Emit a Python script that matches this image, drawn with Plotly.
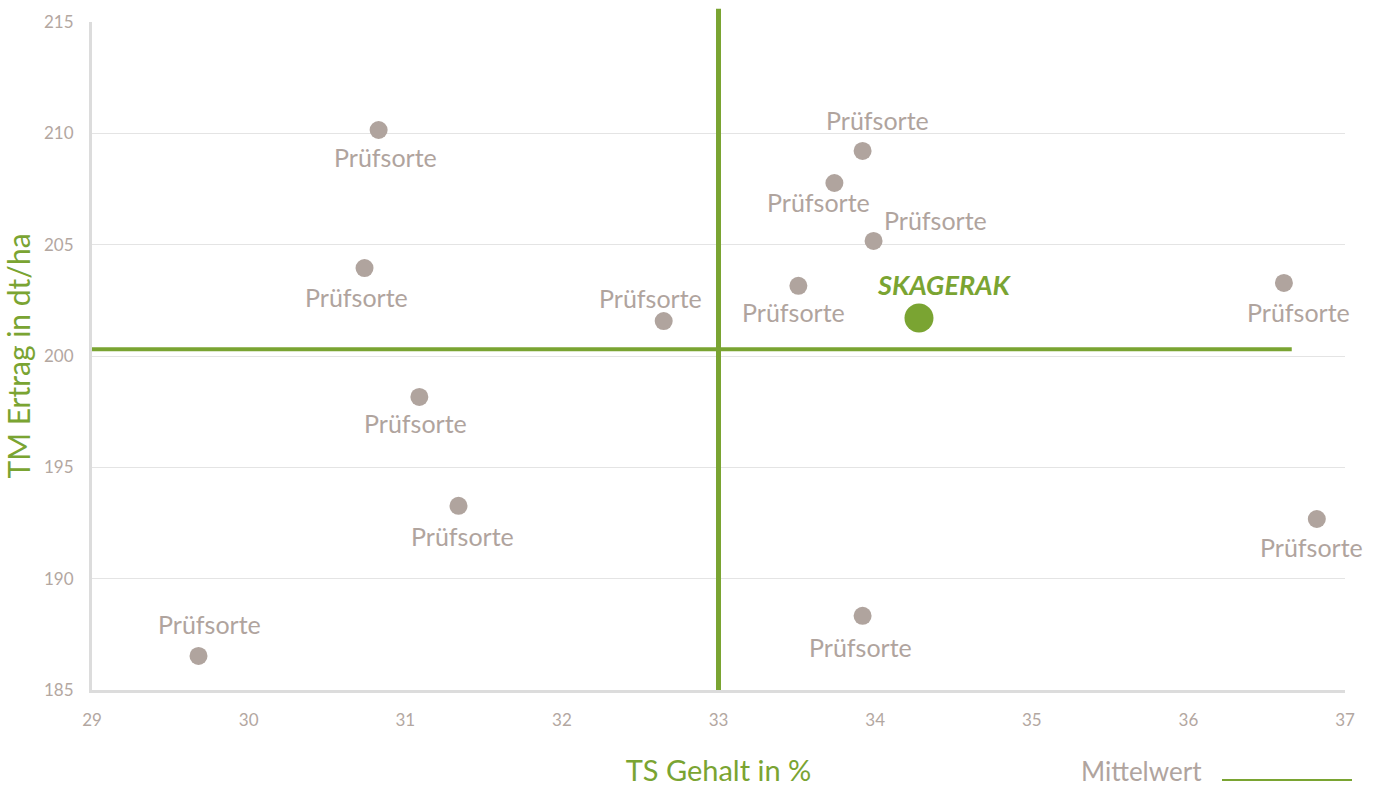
import plotly.graph_objects as go

# ---- data ----
sorten_x = [30.83, 30.74, 31.09, 31.34, 29.68, 32.65, 33.51, 33.92, 33.74, 33.99, 33.92, 36.61, 36.82]
sorten_y = [210.15, 203.95, 198.16, 193.27, 186.53, 201.57, 203.15, 209.21, 207.77, 205.17, 188.33, 203.28, 192.68]
sorten_label = ["Prüfsorte"] * 13
skagerak_x = [34.28]
skagerak_y = [201.71]
skagerak_label = ["Skagerak"]
mean_x = 33.0
mean_y = 200.3
x_ticks = [29, 30, 31, 32, 33, 34, 35, 36, 37]
y_ticks = [185, 190, 195, 200, 205, 210, 215]

# label offsets (pixels) - styling only
label_dx = [7, -8, -4, 4, 11, -13, -5, 15, -16, 62, -2, 15, -5]
label_dy = [-27, -29, -26, -30, 32, 23, -26, 31, -19, 21, -31, -29, -28]

GREEN = "#7aa432"
GREYPT = "#b0a49e"
TICKC = "#b3a7a1"
FONT = "Lato"

fig = go.Figure()

fig.add_trace(go.Scatter(x=sorten_x, y=sorten_y, mode="markers",
                         marker=dict(size=18, color=GREYPT), showlegend=False,
                         cliponaxis=False))
fig.add_trace(go.Scatter(x=skagerak_x, y=skagerak_y, mode="markers",
                         marker=dict(size=29, color=GREEN), showlegend=False,
                         cliponaxis=False))

# horizontal mean line
fig.add_trace(go.Scatter(x=[29, 36.66], y=[mean_y, mean_y], mode="lines",
                         line=dict(color=GREEN, width=4), showlegend=False,
                         hoverinfo="skip"))

ymin, ymax = 185, 215
# vertical mean line (extends slightly above plot top)
fig.add_shape(type="line", xref="x", yref="paper", x0=mean_x, x1=mean_x,
              y0=0, y1=(215.6 - ymin) / (ymax - ymin),
              line=dict(color=GREEN, width=5), layer="above")

for x, y, t, dx, dy in zip(sorten_x, sorten_y, sorten_label, label_dx, label_dy):
    fig.add_annotation(x=x, y=y, text=t, showarrow=False, xshift=dx, yshift=dy,
                       font=dict(family=FONT, size=25, color=GREYPT))

fig.add_annotation(x=skagerak_x[0], y=skagerak_y[0], text="<b><i>" + skagerak_label[0].upper() + "</i></b>",
                   showarrow=False, xshift=26, yshift=33,
                   font=dict(family=FONT, size=27, color=GREEN, weight=900))

# legend-like "Mittelwert"
fig.add_annotation(xref="paper", yref="paper", x=(1141 - 92) / (1345 - 92), y=(690 - 789) / (690 - 22),
                   xanchor="center", yanchor="bottom",
                   text="Mittelwert", showarrow=False,
                   font=dict(family=FONT, size=26, color=GREYPT))
fig.add_shape(type="line", xref="paper", yref="paper",
              x0=(1222 - 92) / (1345 - 92), x1=(1352 - 92) / (1345 - 92),
              y0=(690 - 780) / (690 - 22), y1=(690 - 780) / (690 - 22),
              line=dict(color=GREEN, width=2))

fig.update_layout(
    width=1376, height=791,
    margin=dict(l=92, r=31, t=22, b=101),
    paper_bgcolor="white", plot_bgcolor="white",
    font=dict(family=FONT, color=TICKC),
    xaxis=dict(range=[29, 37], tickvals=x_ticks, showgrid=False, zeroline=False,
               showline=True, linecolor="#dcdcdc", linewidth=3, automargin=False,
               tickfont=dict(size=17, color=TICKC), ticks="", ticklabelstandoff=13,
               title=dict(text="TS Gehalt in %", font=dict(size=29, color=GREEN), standoff=32)),
    yaxis=dict(range=[ymin, ymax], tickvals=y_ticks, showgrid=True, gridcolor="#e4e4e4", gridwidth=1,
               zeroline=False, showline=True, linecolor="#dcdcdc", linewidth=3, automargin=False,
               tickfont=dict(size=17, color=TICKC), ticks="", ticklabelstandoff=12,
               title=dict(text="TM Ertrag in dt/ha", font=dict(size=30, color=GREEN), standoff=10)),
)

fig.write_html("out.html", post_script="document.body.style.margin='0';",
               config={"displayModeBar": False})
